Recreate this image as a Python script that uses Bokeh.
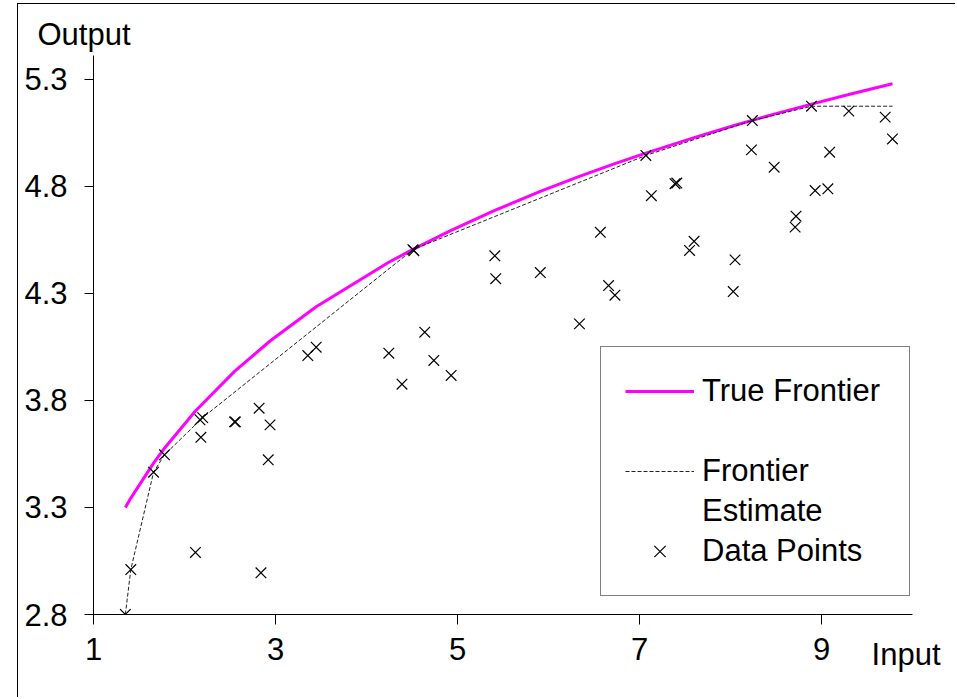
from bokeh.plotting import figure
from bokeh.models import Range1d, FixedTicker, Legend, LegendItem, Title
from bokeh.embed import file_html
from bokeh.resources import INLINE

# ---- data ----
data_x = [1.35, 1.41, 1.66, 1.78, 2.12, 2.17, 2.20, 2.18, 2.55, 2.56, 2.82, 2.94, 2.92, 2.84,
          3.355, 3.447, 4.245, 4.39, 4.64, 4.74, 4.93, 4.51, 4.52, 5.41, 5.42, 5.91, 6.34,
          6.57, 6.66, 6.73, 7.07, 7.13, 7.39, 7.41, 7.60, 7.55, 8.05, 8.03, 8.24, 8.23,
          8.48, 8.89, 8.72, 8.71, 8.93, 9.07, 9.09, 9.30, 9.70, 9.78]
data_y = [2.80, 3.01, 3.465, 3.546, 3.09, 3.71, 3.72, 3.628, 3.70, 3.70, 3.764, 3.686, 3.523, 2.995,
          4.010, 4.049, 4.021, 3.876, 4.119, 3.987, 3.917, 4.505, 4.50, 4.476, 4.369, 4.398, 4.158,
          4.586, 4.337, 4.292, 4.945, 4.757, 4.813, 4.816, 4.544, 4.501, 4.457, 4.309, 5.108, 4.971,
          4.890, 5.175, 4.661, 4.610, 4.781, 4.789, 4.960, 5.152, 5.124, 5.022]

true_x = [1.35, 1.41, 1.66, 1.78, 2.12, 2.55, 2.94, 3.447, 4.245, 4.51, 4.93, 5.41, 5.91,
          6.34, 6.73, 7.07, 7.60, 8.05, 8.48, 8.89, 9.30, 9.78]
true_y = [3.300, 3.344, 3.507, 3.577, 3.751, 3.936, 4.078, 4.238, 4.446, 4.506, 4.595, 4.688, 4.777,
          4.847, 4.907, 4.956, 5.028, 5.086, 5.138, 5.185, 5.230, 5.280]

est_x = [1.35, 1.41, 1.66, 1.78, 2.20, 4.51, 7.07, 8.24, 8.89, 9.78]
est_y = [2.80, 3.01, 3.465, 3.546, 3.72, 4.505, 4.945, 5.108, 5.175, 5.175]

x_ticks = [1, 3, 5, 7, 9]
y_ticks = [2.8, 3.3, 3.8, 4.3, 4.8, 5.3]

x_label = "Input"
y_label = "Output"
series_names = ["True Frontier", "Frontier", "Estimate", "Data Points"]

FONT = "Liberation Sans"
FS = "31px"

p = figure(width=938, height=694, output_backend="svg", toolbar_location=None,
           x_range=Range1d(1, 10), y_range=Range1d(2.8, 5.412),
           min_border_left=75, min_border_top=51, min_border_right=44, min_border_bottom=84)
p.styles = {"position": "absolute", "left": "17px", "top": "3px",
            "border-left": "1px solid black", "border-top": "1px solid black"}
p.outline_line_color = None
p.xgrid.visible = False
p.ygrid.visible = False
p.background_fill_color = "white"
p.border_fill_color = "white"

for ax in (p.xaxis[0], p.yaxis[0]):
    ax.axis_line_color = "black"
    ax.major_tick_line_color = "black"
    ax.minor_tick_line_color = None
    ax.major_tick_in = 0
    ax.major_label_text_font = FONT
    ax.major_label_text_font_size = FS
    ax.major_label_text_color = "black"
p.xaxis[0].ticker = FixedTicker(ticks=x_ticks)
p.yaxis[0].ticker = FixedTicker(ticks=y_ticks)
p.xaxis[0].major_tick_out = 10
p.yaxis[0].major_tick_out = 9
p.xaxis[0].major_label_standoff = 13
p.yaxis[0].major_label_standoff = 17

# axis names as titles (side panels are not clipped)
p.title.text = y_label
p.title.align = "left"
p.title.offset = -56
p.title.standoff = 8
p.title.vertical_align = "bottom"
p.title.text_font = FONT
p.title.text_font_size = FS
p.title.text_font_style = "normal"
p.title.text_color = "black"

t_in = Title(text=x_label, align="right", offset=-28, standoff=-52, vertical_align="top",
             text_font=FONT, text_font_size=FS, text_font_style="normal", text_color="black")
p.add_layout(t_in, "below")

r_true = p.line(true_x, true_y, line_color="#FF00FF", line_width=3)
r_est = p.line(est_x, est_y, line_color="#222222", line_width=1, line_dash="4 2")
r_pts = p.scatter(data_x, data_y, marker="x", size=15, line_color="black", line_width=1.2)
r_blank = p.line([], [], line_alpha=0)

legend = Legend(items=[
    LegendItem(label=series_names[0], renderers=[r_true]),
    LegendItem(label=" ", renderers=[r_blank]),
    LegendItem(label=series_names[1], renderers=[r_est]),
    LegendItem(label=series_names[2], renderers=[r_blank]),
    LegendItem(label=series_names[3], renderers=[r_pts]),
], location=(507, 18))
legend.label_text_font = FONT
legend.label_text_font_size = FS
legend.label_text_color = "black"
legend.glyph_width = 69
legend.glyph_height = 40
legend.label_height = 40
legend.label_width = 183
legend.label_standoff = 8
legend.spacing = 0
legend.padding = 24
legend.margin = 0
legend.border_line_color = "black"
legend.border_line_width = 1
legend.background_fill_color = "white"
legend.background_fill_alpha = 1
p.add_layout(legend)

open("out.html", "w").write(file_html(p, INLINE))
